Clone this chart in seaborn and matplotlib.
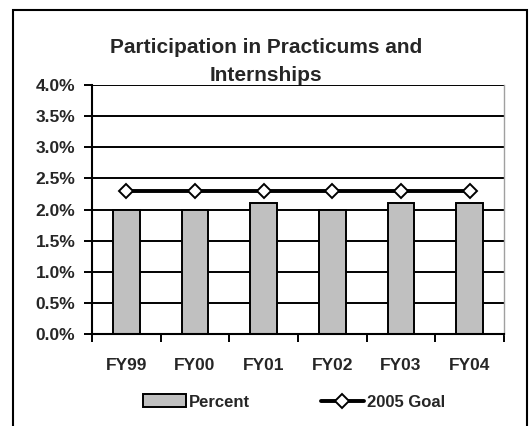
import numpy as np
import seaborn as sns
import matplotlib.pyplot as plt
from matplotlib.patches import Rectangle, Patch
from matplotlib.lines import Line2D

# data
years = ["FY99", "FY00", "FY01", "FY02", "FY03", "FY04"]
percent = [2.0, 2.0, 2.1, 2.0, 2.1, 2.1]
goal_2005 = [2.3, 2.3, 2.3, 2.3, 2.3, 2.3]
y_ticks = [0.0, 0.5, 1.0, 1.5, 2.0, 2.5, 3.0, 3.5, 4.0]

sns.set_style("white")
plt.rcParams["font.family"] = ["Liberation Sans", "DejaVu Sans"]
plt.rcParams["font.weight"] = "bold"

W, H = 529, 426
fig = plt.figure(figsize=(W / 100, H / 100), dpi=100)
ax = fig.add_axes([92 / W, 1 - 334 / H, (504 - 92) / W, (334 - 85) / H])

# outer chart border
fig.patches.append(Rectangle((13 / W, -0.05), (527 - 13) / W, 1 - 10 / H + 0.05,
                             transform=fig.transFigure, fill=False,
                             edgecolor="black", linewidth=1.5))

# horizontal gridlines
for v in y_ticks[1:]:
    ax.axhline(v, color="black", linewidth=1.4, zorder=0)

sns.barplot(x=years, y=percent, color="#c0c0c0", edgecolor="black",
            linewidth=1.4, width=0.39, saturation=1, ax=ax, zorder=2)

sns.lineplot(x=np.arange(len(years)), y=goal_2005, color="black", linewidth=2.8,
             marker="D", markersize=7, markerfacecolor="white",
             markeredgecolor="black", markeredgewidth=1.4, ax=ax, zorder=3)

ax.set_xlim(-0.5, len(years) - 0.5)
ax.set_ylim(0, 4.0)
ax.set_yticks(y_ticks)
ax.set_yticklabels([f"{v:.1f}%" for v in y_ticks])
ax.set_xticks(np.arange(len(years)))
ax.set_xticklabels(years)
ax.set_xticks(np.arange(len(years) + 1) - 0.5, minor=True)
ax.tick_params(axis="x", which="major", length=0, pad=17, labelsize=12.5)
ax.tick_params(axis="x", which="minor", length=6, width=1.4, direction="out",
               color="black", bottom=True)
ax.tick_params(axis="y", length=6, width=1.4, direction="out", color="black",
               left=True, pad=6, labelsize=12.5)
ax.set_xlabel("")
ax.set_ylabel("")

for side in ["left", "bottom"]:
    ax.spines[side].set_color("black")
    ax.spines[side].set_linewidth(1.5)
ax.spines["top"].set_visible(False)
ax.spines["right"].set_color("#a0a0a0")
ax.spines["right"].set_linewidth(1.0)

# two-line title
fig.text(266 / W, 1 - 53 / H, "Participation in Practicums and",
         ha="center", va="baseline", fontsize=15, fontweight="bold")
fig.text(266 / W, 1 - 81 / H, "Internships",
         ha="center", va="baseline", fontsize=15, fontweight="bold")

handles = [
    Patch(facecolor="#c0c0c0", edgecolor="black", linewidth=1.4, label="Percent"),
    Line2D([], [], color="black", linewidth=2.8, marker="D", markersize=7,
           markerfacecolor="white", markeredgecolor="black",
           markeredgewidth=1.4, label="2005 Goal"),
]
fig.legend(handles=handles, loc="center", bbox_to_anchor=(294 / W, 1 - 402 / H),
           ncol=2, frameon=False, fontsize=12, handlelength=2.6,
           handleheight=0.8, handletextpad=0.2, columnspacing=4.2)

fig.savefig("out.png", dpi=100)
